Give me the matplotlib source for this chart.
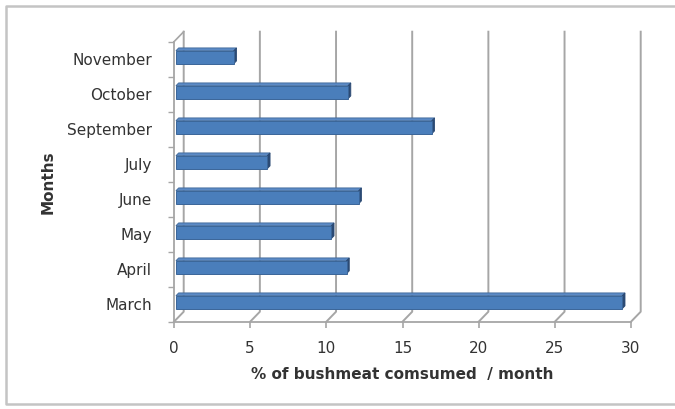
import numpy as np
import matplotlib
matplotlib.use("Agg")
import matplotlib.pyplot as plt
from matplotlib.patches import Polygon, Rectangle
from matplotlib.lines import Line2D

matplotlib.rc('font', size=11)

months = ["March", "April", "May", "June", "July", "September", "October", "November"]
consumed = [29.3, 11.2, 10.2, 12.0, 6.0, 16.8, 11.3, 3.8]
xticks = [0, 5, 10, 15, 20, 25, 30]

fig = plt.figure(figsize=(6.75, 4.09), dpi=100)

# outer chart frame: left, top and bottom edges only
fx0, fy0, fy1 = 6 / 675, 5 / 409, 403 / 409
fig.add_artist(Line2D([1.0, fx0, fx0, 1.0], [fy1, fy1, fy0, fy0], transform=fig.transFigure,
                      color="#c4c4c4", linewidth=1.8))

# axes = front plane of the 3d box
ax = fig.add_axes([174 / 675, 87.3 / 409, 457 / 675, 280 / 409])
ax.set_xlim(0, 30)
ax.set_ylim(0, 8)

# depth of the box in data units (wall offset)
dx, dy = 0.637, 0.2857
grid_c = "#a6a6a6"

# back wall gridlines + slanted floor lines
for v in xticks:
    ax.plot([v, v + dx, v + dx], [0, dy, 8 + dy], color=grid_c, lw=1.4,
            clip_on=False, zorder=1)
# top of left wall
ax.plot([0, dx], [8, 8 + dy], color=grid_c, lw=1.2, clip_on=False, zorder=1)

# bars as 3d boxes: front face, top face, end face
h = 0.37
d0, d1 = 0.2, 0.48
for i, val in enumerate(consumed):
    y0 = i + 0.5 - h / 2 + d0 * dy
    x0 = d0 * dx
    fx = x0 + val
    ox, oy = (d1 - d0) * dx, (d1 - d0) * dy
    top = Polygon([[x0, y0 + h], [fx, y0 + h], [fx + ox, y0 + h + oy], [x0 + ox, y0 + h + oy]],
                  closed=True, facecolor="#5b8ac6", edgecolor="#3f6899", lw=0.6,
                  clip_on=False, zorder=3)
    side = Polygon([[fx, y0], [fx + ox, y0 + oy], [fx + ox, y0 + h + oy], [fx, y0 + h]],
                   closed=True, facecolor="#2b4a74", edgecolor="#2b4a74", lw=0.6,
                   clip_on=False, zorder=3)
    front = Rectangle((x0, y0), val, h, facecolor="#4a7ebb", edgecolor="#3a6598",
                      lw=0.7, clip_on=False, zorder=4)
    ax.add_patch(top)
    ax.add_patch(side)
    ax.add_patch(front)

for s in ["top", "right"]:
    ax.spines[s].set_visible(False)
for s in ["left", "bottom"]:
    ax.spines[s].set_color(grid_c)
    ax.spines[s].set_linewidth(1.3)

txt_c = "#333333"
ax.set_xticks(xticks)
ax.set_xticklabels([str(t) for t in xticks], color=txt_c)
ax.tick_params(axis="x", length=4, width=1.2, color=grid_c, pad=10)

ax.set_yticks(np.arange(0, 9))
ax.set_yticklabels([])
ax.set_yticks(np.arange(len(months)) + 0.5, minor=True)
ax.set_yticklabels(months, minor=True, color=txt_c)
ax.tick_params(axis="y", which="major", length=4, width=1.0, color=grid_c)
ax.tick_params(axis="y", which="minor", length=0, pad=16)

ax.set_xlabel("% of bushmeat comsumed  / month", fontweight="bold", color=txt_c, labelpad=8)
ax.set_ylabel("Months", fontweight="bold", color=txt_c, labelpad=8)

fig.savefig("out.png", dpi=100)
